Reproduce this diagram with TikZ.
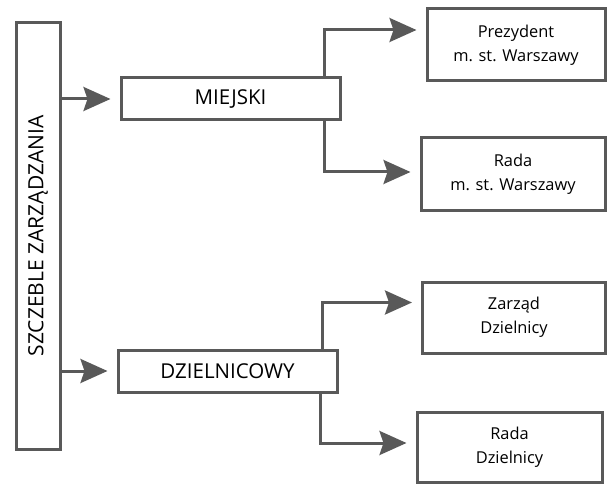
\documentclass[tikz,border=0pt]{standalone}
\usepackage{fontspec}
\setmainfont{Open Sans}
\usepackage{xcolor}
\usepackage{tikz}
\usetikzlibrary{arrows.meta,calc,positioning}

\definecolor{ramka}{HTML}{595959}

\begin{document}
\begin{tikzpicture}[x=1pt,y=-1pt,
    box/.style={draw=ramka, line width=3pt, inner sep=0pt, align=center},
    level/.style={box, minimum width=219pt, minimum height=42pt, font=\fontsize{20.5}{24}\selectfont},
    leaf/.style={box, font=\fontsize{16.4}{24}\selectfont},
    arr/.style={draw=ramka, line width=3pt, -{Stealth[length=27pt,width=24pt,inset=4pt]}, shorten >=9pt}]
  \useasboundingbox (0,0) rectangle (608,484);

  \node[box, minimum width=44pt, minimum height=426pt, font=\fontsize{21}{24}\selectfont] (s) at (38,236) {\rotatebox{90}{SZCZEBLE ZARZĄDZANIA}};

  \node[level] (m) at (230.5,99) {MIEJSKI};
  \node[level] (d) at ($(m)+(-3,272)$) {DZIELNICOWY};

  \node[leaf, minimum width=178pt, minimum height=72pt] (p) at (516,45) {Prezydent\\m. st. Warszawy};
  \node[leaf, minimum width=184pt, minimum height=72pt] (rm) at ($(p)+(-3,129)$) {Rada\\m. st. Warszawy};
  \node[leaf, minimum width=183pt, minimum height=71pt] (z) at (514,317.5) {Zarząd\\Dzielnicy};
  \node[leaf, minimum width=185pt, minimum height=70pt] (rd) at ($(z)+(-4.5,129.5)$) {Rada\\Dzielnicy};

  % szczeble
  \draw[arr] (s.east |- m) -- (m);
  \draw[arr] (s.east |- d) -- (d);

  % organy
  \draw[arr] ($(m.north east)+(-17,0)$) |- ($(p.west)+(0,-15)$);
  \draw[arr] ($(m.south east)+(-17,0)$) |- ($(rm.west)+(0,-2)$);
  \draw[arr] ($(d.north east)+(-16,0)$) |- ($(z.west)+(0,-15)$);
  \draw[arr] ($(d.south east)+(-18,0)$) |- ($(rd.west)+(0,-4)$);
\end{tikzpicture}
\end{document}
